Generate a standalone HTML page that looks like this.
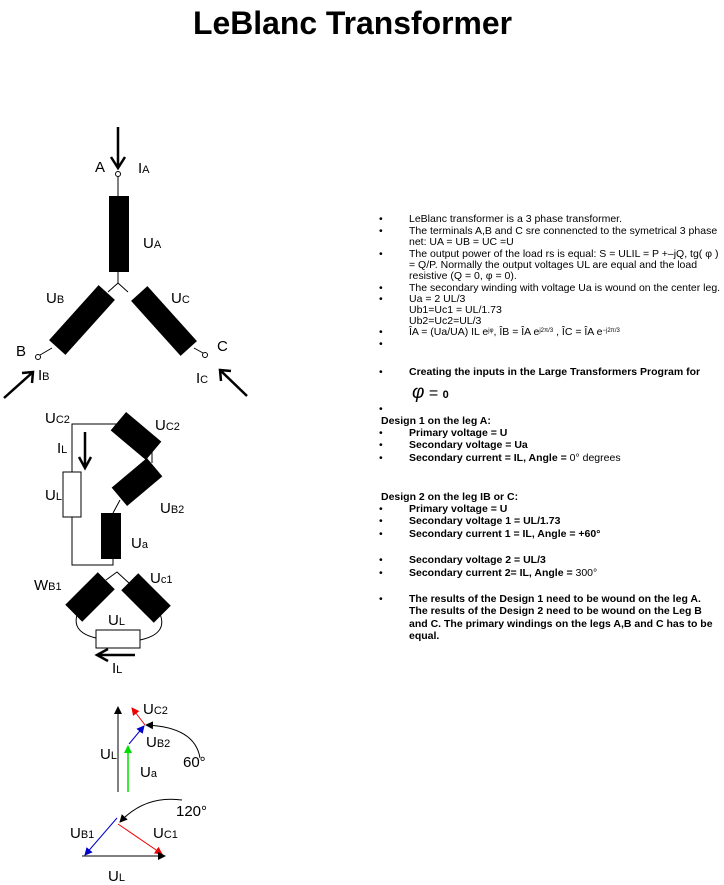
<!DOCTYPE html>
<html><head><meta charset="utf-8"><style>
html,body{margin:0;padding:0;background:#fff}
svg{display:block}
text{font-family:"Liberation Sans",Arial,sans-serif;fill:#000}
.l{font-size:15px}
.s{font-size:10px}
.t{font-size:10.5px}
.b{font-size:10.5px;font-weight:bold}
</style></head><body>
<svg width="724" height="885" viewBox="0 0 724 885" xmlns="http://www.w3.org/2000/svg">
<defs>
<marker id="ak" markerWidth="8" markerHeight="8" refX="7" refY="4" orient="auto" markerUnits="userSpaceOnUse"><path d="M0,0 L8,4 L0,8 z" fill="#000"/></marker>
<marker id="ar" markerWidth="8" markerHeight="8" refX="7" refY="4" orient="auto" markerUnits="userSpaceOnUse"><path d="M0,0 L8,4 L0,8 z" fill="#e00"/></marker>
<marker id="ab" markerWidth="8" markerHeight="8" refX="7" refY="4" orient="auto" markerUnits="userSpaceOnUse"><path d="M0,0 L8,4 L0,8 z" fill="#00c"/></marker>
<marker id="ag" markerWidth="8" markerHeight="8" refX="7" refY="4" orient="auto" markerUnits="userSpaceOnUse"><path d="M0,0 L8,4 L0,8 z" fill="#0d0"/></marker>
</defs>
<text x="193" y="34" font-size="32" font-weight="bold" textLength="319" lengthAdjust="spacingAndGlyphs">LeBlanc Transformer</text>

<!-- Star -->
<g stroke="#000" fill="none">
<path d="M118,127 V166 M111,157 L118,168 L125,157" stroke-width="2.5"/>
<line x1="118" y1="177" x2="118" y2="196"/>
<line x1="118" y1="272" x2="118" y2="283"/>
<path d="M118,283 L108,292 M118,283 L128,292"/>
<line x1="52" y1="348" x2="40" y2="355"/>
<line x1="194" y1="348" x2="203" y2="353"/>
<circle cx="118" cy="174" r="2.5" fill="#fff"/>
<circle cx="38" cy="357" r="2.5" fill="#fff"/>
<circle cx="205" cy="355" r="2.5" fill="#fff"/>
<path d="M4,398 L33,372 M22,373 L33,372 L32,383" stroke-width="2.5"/>
<path d="M247,396 L220,370 M221,381 L220,370 L231,371" stroke-width="2.5"/>
</g>
<rect x="109" y="196" width="20" height="76" fill="#000"/>
<rect x="-37" y="-11" width="74" height="22" fill="#000" transform="translate(82,320) rotate(-48)"/>
<rect x="-37" y="-11" width="74" height="22" fill="#000" transform="translate(164,321) rotate(48)"/>
<text class="l" x="95" y="172">A</text>
<text class="l" x="138" y="173">I<tspan font-size="11">A</tspan></text>
<text class="l" x="143" y="248">U<tspan font-size="11">A</tspan></text>
<text class="l" x="46" y="303">U<tspan font-size="11">B</tspan></text>
<text class="l" x="171" y="303">U<tspan font-size="11">C</tspan></text>
<text class="l" x="16" y="356">B</text>
<text class="l" x="217" y="351">C</text>
<text class="l" x="38" y="380">I<tspan font-size="11">B</tspan></text>
<text class="l" x="196" y="383">I<tspan font-size="11">C</tspan></text>

<!-- Circuit -->
<g stroke="#000" fill="none">
<path d="M120,424 H72 V472 M72,517 V565 H113 V559"/>
<line x1="152" y1="447" x2="152" y2="463"/>
<line x1="120" y1="500" x2="113" y2="513"/>
<path d="M85,432 V466 M79,457 L85,468 L91,457" stroke-width="2.5"/>
<path d="M106,580 L117,572 L130,584"/>
<path d="M78,612 Q70,632 96,638 M160,614 Q168,634 140,640"/>
<path d="M135,655 H98 M108,649 L97,655 L108,661" stroke-width="2.5"/>
</g>
<rect x="63" y="472" width="18" height="45" fill="#fff" stroke="#000"/>
<rect x="101" y="513" width="20" height="46" fill="#000"/>
<rect x="-23" y="-12" width="46" height="24" fill="#000" transform="translate(136,436) rotate(40)"/>
<rect x="-23" y="-12" width="46" height="24" fill="#000" transform="translate(137,482) rotate(-40)"/>
<rect x="-23" y="-12" width="46" height="24" fill="#000" transform="translate(90,597) rotate(-45)"/>
<rect x="-23" y="-12" width="46" height="24" fill="#000" transform="translate(146,598) rotate(45)"/>
<rect x="96" y="630" width="44" height="18" fill="#fff" stroke="#000"/>
<text class="l" x="45" y="423">U<tspan font-size="11">C2</tspan></text>
<text class="l" x="57" y="453">I<tspan font-size="11">L</tspan></text>
<text class="l" x="45" y="500">U<tspan font-size="11">L</tspan></text>
<text class="l" x="155" y="430">U<tspan font-size="11">C2</tspan></text>
<text class="l" x="160" y="513">U<tspan font-size="11">B2</tspan></text>
<text class="l" x="131" y="548">U<tspan font-size="11">a</tspan></text>
<text class="l" x="34" y="590">W<tspan font-size="11">B1</tspan></text>
<text class="l" x="150" y="583">U<tspan font-size="11">c1</tspan></text>
<text class="l" x="108" y="625">U<tspan font-size="11">L</tspan></text>
<text class="l" x="112" y="673">I<tspan font-size="11">L</tspan></text>

<!-- Phasors -->
<g fill="none" stroke-width="1">
<line x1="118" y1="792" x2="118" y2="707" stroke="#000" marker-end="url(#ak)"/>
<line x1="128" y1="792" x2="128" y2="746" stroke="#0d0" stroke-width="1.5" marker-end="url(#ag)"/>
<line x1="129" y1="744" x2="144" y2="726" stroke="#00c" marker-end="url(#ab)"/>
<line x1="145" y1="725" x2="132" y2="708" stroke="#e00" marker-end="url(#ar)"/>
<path d="M200,758 Q195,727 146,725" stroke="#000" marker-end="url(#ak)"/>
<path d="M182,800 Q145,795 120,822" stroke="#000" marker-end="url(#ak)"/>
<line x1="117" y1="818" x2="85" y2="855" stroke="#00c" marker-end="url(#ab)"/>
<line x1="118" y1="824" x2="162" y2="854" stroke="#e00" marker-end="url(#ar)"/>
<line x1="82" y1="856" x2="165" y2="856" stroke="#000" marker-end="url(#ak)"/>
</g>
<text class="l" x="143" y="714">U<tspan font-size="11">C2</tspan></text>
<text class="l" x="146" y="747">U<tspan font-size="11">B2</tspan></text>
<text class="l" x="100" y="759">U<tspan font-size="11">L</tspan></text>
<text class="l" x="140" y="777">U<tspan font-size="11">a</tspan></text>
<text class="l" x="183" y="767">60°</text>
<text class="l" x="176" y="816">120°</text>
<text class="l" x="70" y="838">U<tspan font-size="11">B1</tspan></text>
<text class="l" x="153" y="838">U<tspan font-size="11">C1</tspan></text>
<text class="l" x="108" y="881">U<tspan font-size="11">L</tspan></text>

<!-- Text -->
<g>
<text class="t" x="379" y="222">•</text><text class="t" x="409" y="222">LeBlanc transformer is a 3 phase transformer.</text>
<text class="t" x="379" y="234">•</text><text class="t" x="409" y="234">The terminals A,B and C sre connencted to the symetrical 3 phase</text>
<text class="t" x="409" y="245">net: UA = UB = UC =U</text>
<text class="t" x="379" y="257">•</text><text class="t" x="409" y="257">The output power of the load rs is equal: S = ULIL = P +–jQ, tg( φ )</text>
<text class="t" x="409" y="268">= Q/P. Normally the output voltages UL are equal and the load</text>
<text class="t" x="409" y="279">resistive (Q = 0, φ = 0).</text>
<text class="t" x="379" y="291">•</text><text class="t" x="409" y="291">The secondary winding with voltage Ua is wound on the center leg.</text>
<text class="t" x="379" y="302">•</text><text class="t" x="409" y="302">Ua = 2 UL/3</text>
<text class="t" x="409" y="313">Ub1=Uc1 = UL/1.73</text>
<text class="t" x="409" y="324">Ub2=Uc2=UL/3</text>
<text class="t" x="379" y="335">•</text><text class="t" x="409" y="335">ÎA = (Ua/UA) IL e<tspan font-size="6" dy="-3">jφ</tspan><tspan dy="3">, ÎB = ÎA e</tspan><tspan font-size="6" dy="-3">j2π/3</tspan><tspan dy="3"> , ÎC = ÎA e</tspan><tspan font-size="6" dy="-3">−j2π/3</tspan></text>
<text class="t" x="379" y="347">•</text>
<text class="t" x="379" y="375">•</text>
<text class="b" x="409" y="375" font-size="11">Creating the inputs in the Large Transformers Program for</text>
<text x="412" y="398" font-size="19" font-style="italic" font-family="Liberation Serif">φ<tspan font-style="normal" font-size="16" font-family="Liberation Sans"> = </tspan><tspan font-style="normal" font-size="11" font-weight="bold">0</tspan></text>
<text class="t" x="379" y="412">•</text>
<text class="b" x="381" y="424">Design 1 on the leg A:</text>
<text class="t" x="379" y="436">•</text><text class="b" x="409" y="436">Primary voltage = U</text>
<text class="t" x="379" y="448">•</text><text class="b" x="409" y="448">Secondary voltage = Ua</text>
<text class="t" x="379" y="461">•</text><text class="b" x="409" y="461">Secondary current = IL, Angle = <tspan font-weight="normal">0° degrees</tspan></text>
<text class="b" x="381" y="500">Design 2 on the leg IB or C:</text>
<text class="t" x="379" y="512">•</text><text class="b" x="409" y="512">Primary voltage = U</text>
<text class="t" x="379" y="524">•</text><text class="b" x="409" y="524">Secondary voltage 1 = UL/1.73</text>
<text class="t" x="379" y="537">•</text><text class="b" x="409" y="537">Secondary current 1 = IL, Angle = +60°</text>
<text class="t" x="379" y="563">•</text><text class="b" x="409" y="563">Secondary voltage 2 = UL/3</text>
<text class="t" x="379" y="576">•</text><text class="b" x="409" y="576">Secondary current 2= IL, Angle = <tspan font-weight="normal"> 300°</tspan></text>
<text class="t" x="379" y="602">•</text><text class="b" x="409" y="602">The results of the Design 1 need to be wound on the leg A.</text>
<text class="b" x="409" y="614">The results of the Design 2 need to be wound on the Leg B</text>
<text class="b" x="409" y="627">and C. The primary windings on the legs A,B and C has to be</text>
<text class="b" x="409" y="639">equal.</text>
</g>
</svg>
</body></html>
